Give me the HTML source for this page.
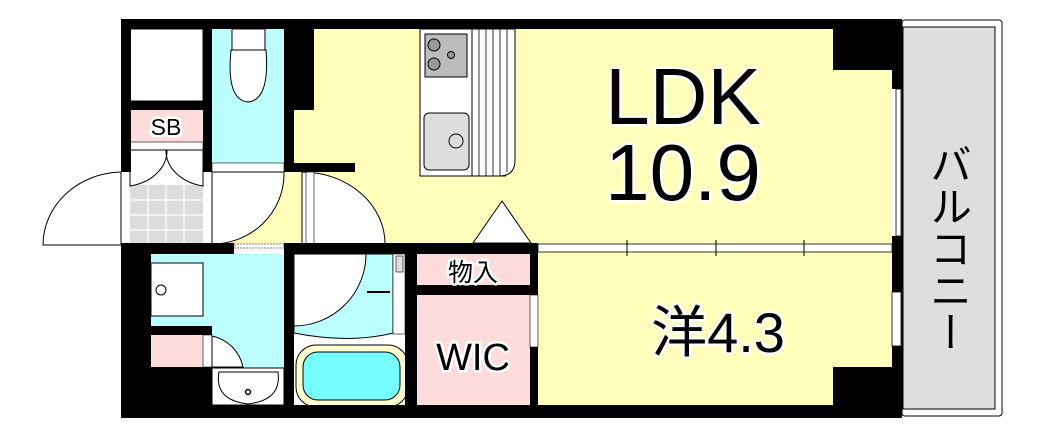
<!DOCTYPE html>
<html><head><meta charset="utf-8"><style>
html,body{margin:0;padding:0;background:#fff;width:1054px;height:433px;overflow:hidden}
svg{display:block}
text{font-family:"Liberation Sans","Noto Sans CJK JP",sans-serif;}
</style></head><body>
<svg width="1054" height="433" viewBox="0 0 1054 433" xmlns="http://www.w3.org/2000/svg">
<!-- balcony -->
<rect x="902" y="20" width="100" height="396" rx="3" fill="#fff" stroke="#000" stroke-width="1"/>
<rect x="903" y="27" width="92" height="382" fill="#dedede" stroke="#000" stroke-width="1"/>
<!-- rooms fills -->
<rect x="294" y="29" width="598" height="215" fill="#ffffbb"/>
<rect x="538" y="248" width="354" height="160" fill="#ffffbb"/>
<rect x="212" y="172" width="90" height="72" fill="#ffffbb"/>
<rect x="130" y="29" width="73" height="72" fill="#fff" stroke="#000"/>
<rect x="130" y="110" width="73" height="32" fill="#ffdcdc"/>
<rect x="130" y="142" width="73" height="8" fill="#fff" stroke="#000" stroke-width="0.6"/>
<rect x="130" y="150" width="73" height="95" fill="#fff"/>
<rect x="130" y="185" width="73" height="59" fill="#dcdcdc"/>
<g stroke="#fff" stroke-width="1.2"><line x1="130" y1="200" x2="203" y2="200"/><line x1="130" y1="215" x2="203" y2="215"/><line x1="130" y1="230" x2="203" y2="230"/><line x1="148" y1="185" x2="148" y2="244"/><line x1="166" y1="185" x2="166" y2="244"/><line x1="184" y1="185" x2="184" y2="244"/></g>
<rect x="212" y="29" width="72" height="134" fill="#bff"/>
<rect x="212" y="163" width="72" height="9" fill="#fff" stroke="#000" stroke-width="0.6"/>
<!-- toilet -->
<rect x="232" y="29" width="33" height="21" fill="#fff" stroke="#000"/>
<path d="M231,50 Q226,100 248,102 Q270,100 266,50 Z" fill="#fff" stroke="#000"/>
<!-- lower rooms -->
<rect x="151" y="254" width="133" height="73" fill="#bff"/>
<rect x="212" y="327" width="72" height="41" fill="#bff"/>
<rect x="151" y="263" width="52" height="53" fill="#fff" stroke="#000"/>
<circle cx="161" cy="290" r="5" fill="#fff" stroke="#000"/>
<rect x="151" y="335" width="52" height="32" fill="#ffdcdc"/>
<rect x="203" y="335" width="9" height="32" fill="#fff" stroke="#000" stroke-width="0.6"/>
<path d="M212,336 A40,40 0 0 1 243,367 L212,367Z" fill="#fff" stroke="#000"/>
<rect x="212" y="368" width="72" height="37" fill="#fff" stroke="#000"/>
<path d="M219,372 L278,372 Q282,400 248,404 Q214,400 219,372Z" fill="#fff" stroke="#000"/>
<circle cx="248" cy="392" r="2.5" fill="#fff" stroke="#000" stroke-width="1.5"/>
<rect x="294" y="254" width="111" height="151" fill="#fff"/>
<path d="M294,254 L393,254 L393,333 Q350,344 294,333 Z" fill="#bff" stroke="#000"/>
<path d="M294,254 L366,254 A72,72 0 0 1 294,326 Z" fill="#fff" stroke="#000"/>
<rect x="393" y="254" width="12" height="80" fill="#fff" stroke="#000" stroke-width="0.6"/>
<rect x="396" y="256" width="7" height="16" fill="#ddd" stroke="#000" stroke-width="0.6"/>
<line x1="367" y1="292" x2="390" y2="292" stroke="#000" stroke-width="2"/>
<rect x="296" y="345" width="112" height="62" rx="20" fill="#ffffd0" stroke="#000"/>
<rect x="303" y="352" width="97" height="48" rx="15" fill="#7ff" stroke="#000"/>
<rect x="417" y="254" width="113" height="31" fill="#ffdcdc"/>
<rect x="417" y="295" width="113" height="113" fill="#ffdcdc"/>
<rect x="530" y="295" width="8" height="52" fill="#fff" stroke="#000" stroke-width="0.6"/>
<!-- kitchen -->
<rect x="420" y="29" width="85" height="147" fill="#fff" stroke="#000"/>
<path d="M472,29 L515,29 L515,160 Q515,176 499,176 L472,176 Z" fill="#fff" stroke="#000"/>
<g stroke="#000" stroke-width="0.8"><line x1="479" y1="29" x2="479" y2="176"/><line x1="486" y1="29" x2="486" y2="176"/><line x1="493" y1="29" x2="493" y2="176"/><line x1="500" y1="29" x2="500" y2="176"/><line x1="507" y1="29" x2="507" y2="172"/></g>
<rect x="425" y="34" width="42" height="43" fill="#bbb" stroke="#000"/>
<circle cx="434" cy="45" r="6" fill="#999" stroke="#000"/><circle cx="434" cy="64" r="6" fill="#999" stroke="#000"/><circle cx="451" cy="55" r="3.5" fill="#999" stroke="#000"/>
<rect x="424" y="113" width="45" height="57" rx="5" fill="#ddd" stroke="#000"/>
<circle cx="456" cy="141" r="7" fill="#ddd" stroke="#000"/>
<!-- doors -->
<path d="M302,172 L302,244 L385,244 A83,72 0 0 0 302,172Z" fill="#fff" stroke="#000"/>
<rect x="306" y="172" width="8" height="72" fill="#fff" stroke="#000" stroke-width="0.6"/>
<path d="M212,172 L284,172 L284,175 A72,70 0 0 1 212,244 Z" fill="#fff" stroke="#000"/>
<path d="M130,150 L130,186 A46,36 0 0 0 167,150 Z M203,150 L203,186 A46,36 0 0 1 166,150 Z" fill="#fff" stroke="#000"/>
<path d="M121,172 L121,245 L43,245 A80,73 0 0 1 121,172Z" fill="#fff" stroke="#000"/>
<polygon points="473,243 502,201 531,243" fill="#fff" stroke="#000"/>
<!-- walls -->
<g fill="#000">
<rect x="121" y="19" width="781" height="10"/>
<rect x="121" y="19" width="10" height="153"/>
<rect x="130" y="101" width="73" height="9"/>
<rect x="203" y="19" width="9" height="153"/>
<rect x="284" y="19" width="10" height="153"/>
<rect x="284" y="19" width="30" height="91"/>
<rect x="284" y="163" width="71" height="9"/>
<rect x="833" y="19" width="59" height="51"/>
<rect x="892" y="19" width="10" height="70"/>
<rect x="892" y="236" width="10" height="56"/>
<rect x="892" y="346" width="10" height="72"/>
<rect x="833" y="367" width="59" height="51"/>
<rect x="121" y="243" width="113" height="11"/>
<rect x="121" y="243" width="30" height="175"/>
<rect x="151" y="326" width="61" height="9"/>
<rect x="151" y="367" width="61" height="51"/>
<rect x="284" y="243" width="251" height="11"/>
<rect x="284" y="243" width="10" height="175"/>
<rect x="405" y="243" width="12" height="175"/>
<rect x="417" y="285" width="121" height="10"/>
<rect x="530" y="243" width="8" height="52"/>
<rect x="530" y="347" width="8" height="71"/>
<rect x="121" y="405" width="781" height="13"/>
</g>
<!-- windows/partition -->
<rect x="896" y="89" width="5" height="147" fill="#fff" stroke="#000" stroke-width="0.8"/>
<rect x="892" y="292" width="9" height="54" fill="#fff" stroke="#000" stroke-width="0.8"/>
<rect x="538" y="244" width="354" height="8" fill="#fff" stroke="#000" stroke-width="0.8"/>
<g stroke="#000" stroke-width="1"><line x1="627" y1="240" x2="627" y2="256"/><line x1="716" y1="240" x2="716" y2="256"/><line x1="804" y1="240" x2="804" y2="256"/></g>
<rect x="234" y="244" width="50" height="4" fill="#fff" stroke="#000" stroke-width="0.6" stroke-dasharray="2,1"/>
<!-- labels -->
<g stroke="#fff" stroke-width="5" paint-order="stroke" fill="#000" stroke-linejoin="round">
<text x="683" y="124" font-size="80" text-anchor="middle">LDK</text>
<text x="683" y="200" font-size="80" text-anchor="middle">10.9</text>
<text x="718" y="352" font-size="56" text-anchor="middle">洋4.3</text>
<text x="166" y="135" font-size="23" text-anchor="middle">SB</text>
<text x="473" y="281" font-size="25" text-anchor="middle">物入</text>
<text x="473" y="370" font-size="38" text-anchor="middle">WIC</text>
</g>
<text x="948" y="143" font-size="42" style="writing-mode:vertical-rl">バルコニー</text>
</svg>
</body></html>
